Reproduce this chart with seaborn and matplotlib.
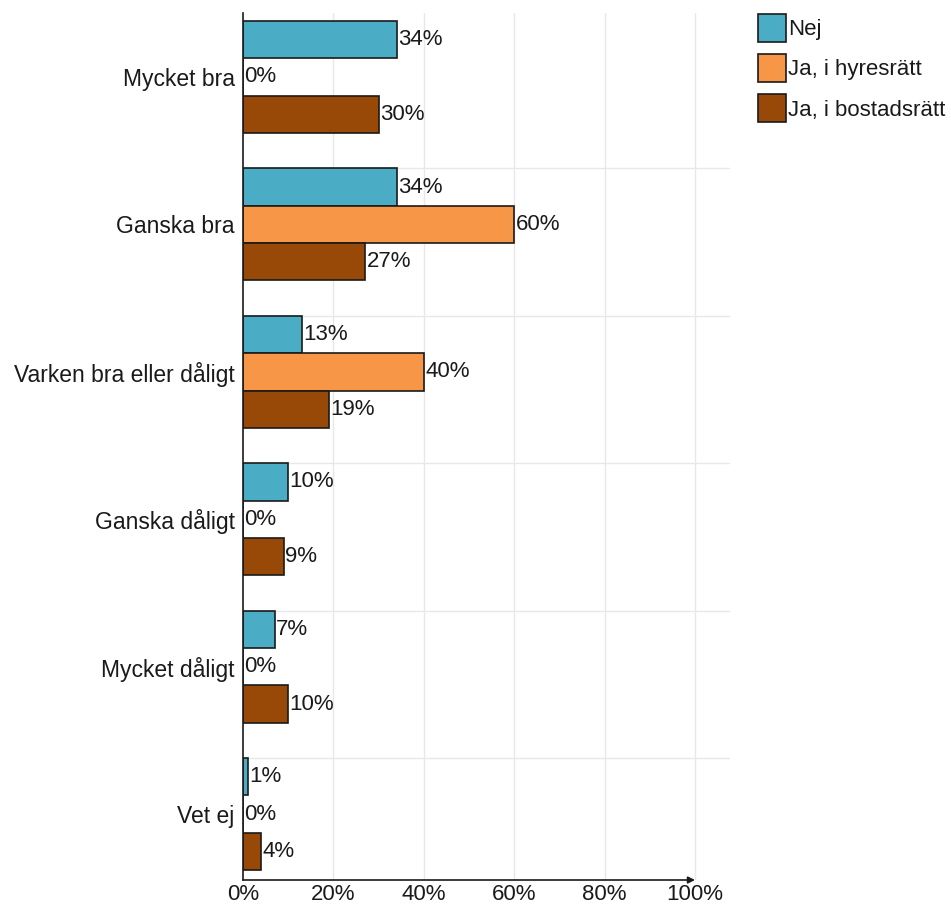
import matplotlib
matplotlib.use("Agg")
import matplotlib.pyplot as plt
import seaborn as sns
import pandas as pd
import numpy as np

categories = ["Mycket bra", "Ganska bra", "Varken bra eller dåligt",
              "Ganska dåligt", "Mycket dåligt", "Vet ej"]
series_names = ["Nej", "Ja, i hyresrätt", "Ja, i bostadsrätt"]
nej = [34, 34, 13, 10, 7, 1]
hyresratt = [0, 60, 40, 0, 0, 0]
bostadsratt = [30, 27, 19, 9, 10, 4]
colors = ["#4BACC6", "#F79646", "#984807"]
xticks = [0, 20, 40, 60, 80, 100]

rows = []
for s, vals in zip(series_names, [nej, hyresratt, bostadsratt]):
    for c, v in zip(categories, vals):
        rows.append({"cat": c, "series": s, "val": v})
df = pd.DataFrame(rows)

sns.set_style("white")
plt.rcParams["font.family"] = ["Liberation Sans", "DejaVu Sans"]
plt.rcParams["text.color"] = "#1a1a1a"

W, H = 951, 905
fig = plt.figure(figsize=(W / 100, H / 100), dpi=100)
ax = fig.add_axes([243 / W, 1 - 880 / H, (730 - 243) / W, (880 - 13) / H])

group_w = 0.76
sns.barplot(data=df, y="cat", x="val", hue="series", orient="h",
            order=categories, hue_order=series_names, palette=colors,
            saturation=1, width=group_w, edgecolor="#1a1a1a", linewidth=1.2,
            dodge=True, ax=ax, legend=True)

ax.set_xlim(0, (730 - 243) / 4.52)
ax.set_ylim(5.447, -0.434)

# gridlines
for x in xticks[1:]:
    ax.axvline(x, color="#e8e8e8", lw=1, zorder=0)
for i in range(1, len(categories)):
    ax.axhline(i - group_w / 2, color="#e8e8e8", lw=1, zorder=0)

for cont in ax.containers:
    ax.bar_label(cont, labels=[f"{int(round(b.get_width()))}%" for b in cont],
                 padding=1, fontsize=16, color="#1a1a1a")

ax.set_xticks(xticks)
ax.set_xticklabels([f"{x}%" for x in xticks], fontsize=16)
ax.tick_params(axis="both", length=0, colors="#1a1a1a")
ax.tick_params(axis="y", pad=6, labelsize=16.5)
ax.tick_params(axis="x", pad=3)
ax.set_xlabel("")
ax.set_ylabel("")

for sp in ["top", "right", "bottom"]:
    ax.spines[sp].set_visible(False)
ax.spines["left"].set_color("#1a1a1a")
ax.spines["left"].set_linewidth(1.2)

ax.annotate("", xy=(100, 0), xytext=(0, 0),
            xycoords=("data", "axes fraction"), textcoords=("data", "axes fraction"),
            arrowprops=dict(arrowstyle="-|>", color="#1a1a1a", lw=1.2,
                            mutation_scale=10, shrinkA=0, shrinkB=0),
            annotation_clip=False)

handles, labels = ax.get_legend_handles_labels()
ax.get_legend().remove()
fig.legend(handles, labels, loc="upper left",
           bbox_to_anchor=(758 / W, 1 - 14 / H), bbox_transform=fig.transFigure,
           frameon=False, fontsize=16, handlelength=1.25, handleheight=1.56,
           handletextpad=0.1, labelspacing=0.55, borderpad=0, borderaxespad=0)

fig.savefig("out.png", dpi=100)
